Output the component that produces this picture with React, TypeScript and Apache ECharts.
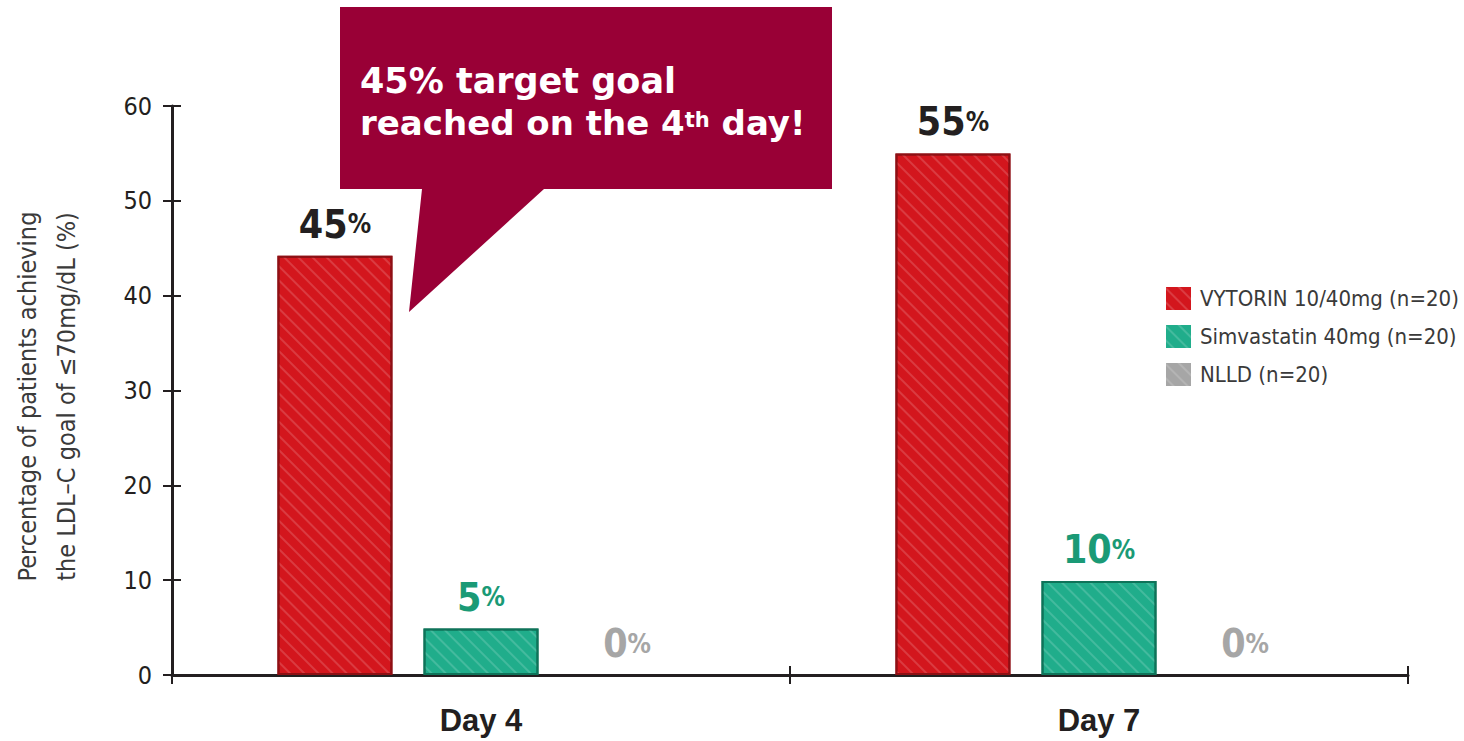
import React, { useEffect, useRef } from "react";
import * as echarts from "echarts";

const categories = ["Day 4", "Day 7"];
const seriesNames = ["VYTORIN 10/40mg (n=20)", "Simvastatin 40mg (n=20)", "NLLD (n=20)"];
const vytorinValues = [44.2, 55];
const simvastatinValues = [4.9, 9.9];
const nlldValues = [0, 0];
const vytorinLabels = ["45", "55"];
const simvastatinLabels = ["5", "10"];
const nlldLabels = ["0", "0"];
const yMin = 0;
const yMax = 60;
const yInterval = 10;
const yAxisTitle = "Percentage of patients achieving\nthe LDL\u2013C goal of \u226470mg/dL (%)";
const calloutLine1 = "45% target goal";
const calloutLine2a = "reached on the 4";
const calloutSup = "th";
const calloutLine2b = " day!";

const NARROW = "'Liberation Sans Narrow', 'DejaVu Sans Condensed', 'Arial Narrow', Roboto, sans-serif";
const SANS = "'Liberation Sans', Arial, sans-serif";
const WIDE = "'DejaVu Sans', Verdana, sans-serif";
const DARK = "#231f20";

function makeDecal() {
  return {
    symbol: "rect",
    symbolSize: 1,
    color: "rgba(255,255,255,0.16)",
    dashArrayX: [1, 0],
    dashArrayY: [2, 8],
    rotation: Math.PI / 4,
  };
}

function barSeries(name: string, values: number[], labels: string[], color: string, border: string, borderWidth: number, labelColor: string) {
  return {
    name,
    type: "bar",
    xAxisIndex: 0,
    yAxisIndex: 0,
    data: values,
    barWidth: 115,
    barGap: "27%",
    itemStyle: { color, borderColor: border, borderWidth, decal: makeDecal() },
    label: {
      show: true,
      position: "top",
      distance: 12,
      formatter: (p: any) => "{n|" + labels[p.dataIndex] + "}{p|%}",
      rich: {
        n: { fontFamily: NARROW, fontWeight: "bold", fontSize: 39, color: labelColor },
        p: { fontFamily: NARROW, fontWeight: "bold", fontSize: 26, color: labelColor },
      },
    },
  };
}

export default function App() {
  const ref = useRef<HTMLDivElement>(null);
  useEffect(() => {
    if (!ref.current) return;
    const chart = echarts.init(ref.current, null, { renderer: "svg" });
    chart.setOption({
      animation: false,
      backgroundColor: "#ffffff",
      grid: { left: 170, right: 56, top: 106, bottom: 66, containLabel: false },
      legend: {
        orient: "vertical",
        left: 1166,
        top: 287,
        padding: 0,
        itemWidth: 25,
        itemHeight: 23,
        itemGap: 15,
        icon: "rect",
        data: seriesNames,
        itemStyle: { borderWidth: 0 },
        textStyle: { fontFamily: NARROW, fontSize: 22, color: "#3a3a3a", padding: [0, 0, 0, 4] },
      },
      xAxis: [
        {
          type: "category",
          data: categories,
          position: "bottom",
          axisLine: { lineStyle: { color: DARK, width: 3 } },
          axisTick: { show: true, length: 9, lineStyle: { color: DARK, width: 2 } },
          axisLabel: { fontFamily: SANS, fontWeight: "bold", fontSize: 31, color: DARK, margin: 30 },
        },
        {
          type: "category",
          data: categories,
          position: "bottom",
          axisLine: { show: false },
          axisTick: { show: true, inside: true, length: 9, lineStyle: { color: DARK, width: 2 } },
          axisLabel: { show: false },
        },
      ],
      yAxis: [
        {
          type: "value",
          min: yMin,
          max: yMax,
          interval: yInterval,
          position: "left",
          splitLine: { show: false },
          axisLine: { show: true, lineStyle: { color: DARK, width: 3 } },
          axisTick: { show: true, length: 9, lineStyle: { color: DARK, width: 2 } },
          axisLabel: { fontFamily: NARROW, fontSize: 25, color: DARK, margin: 20 },
          name: yAxisTitle,
          nameLocation: "middle",
          nameGap: 86,
          nameTextStyle: { fontFamily: NARROW, fontSize: 25, color: "#3a3a3a", lineHeight: 39, padding: [0, 12, 0, 0] },
        },
        {
          type: "value",
          min: yMin,
          max: yMax,
          interval: yInterval,
          position: "left",
          splitLine: { show: false },
          axisLine: { show: false },
          axisTick: { show: true, inside: true, length: 9, lineStyle: { color: DARK, width: 2 } },
          axisLabel: { show: false },
        },
      ],
      series: [
        barSeries(seriesNames[0], vytorinValues, vytorinLabels, "#d3161d", "#8e1014", 2, DARK),
        barSeries(seriesNames[1], simvastatinValues, simvastatinLabels, "#20ad8b", "#0e7359", 2, "#1a9a76"),
        barSeries(seriesNames[2], nlldValues, nlldLabels, "#a6a6a6", "#a6a6a6", 0, "#a6a6a6"),
      ],
      graphic: [
        {
          type: "polygon",
          shape: {
            points: [
              [340, 7], [832, 7], [832, 189], [544, 189], [409, 312], [422, 189], [340, 189],
            ],
          },
          style: { fill: "#990036" },
          z: 100,
        },
        {
          type: "text",
          x: 360,
          y: 81,
          z: 101,
          style: {
            text: calloutLine1,
            fill: "#ffffff",
            font: "bold 35px " + WIDE,
            verticalAlign: "middle",
          },
        },
        {
          type: "text",
          x: 360,
          y: 123,
          z: 101,
          style: {
            text: "{a|" + calloutLine2a + "}{s|" + calloutSup + "}{a|" + calloutLine2b + "}",
            verticalAlign: "middle",
            rich: {
              a: { fill: "#ffffff", fontFamily: WIDE, fontWeight: "bold", fontSize: 34 },
              s: { fill: "#ffffff", fontFamily: WIDE, fontWeight: "bold", fontSize: 21, verticalAlign: "top", padding: [3, 0, 0, 0] },
            },
          },
        },
      ],
    });
    return () => chart.dispose();
  }, []);
  return <div ref={ref} style={{ position: "fixed", left: 0, top: 0, width: 1464, height: 741 }} />;
}
